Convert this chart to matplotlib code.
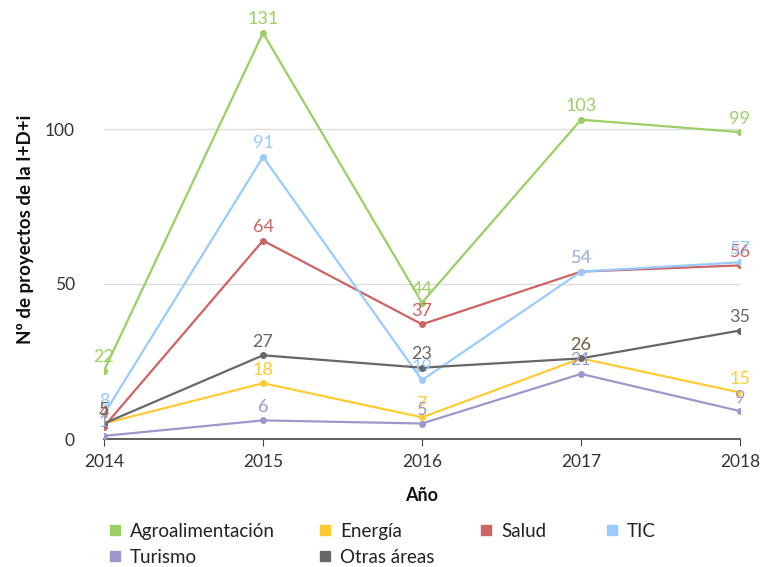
import matplotlib.pyplot as plt
from matplotlib.lines import Line2D

plt.rcParams['font.family'] = ['Lato', 'DejaVu Sans']

years = [2014, 2015, 2016, 2017, 2018]
agro = [22, 131, 44, 103, 99]
energia = [5, 18, 7, 26, 15]
salud = [4, 64, 37, 54, 56]
tic = [8, 91, 19, 54, 57]
turismo = [1, 6, 5, 21, 9]
otras = [5, 27, 23, 26, 35]

series = [
    ('Agroalimentación', agro, '#9bcf63'),
    ('Energía', energia, '#ffcb33'),
    ('Salud', salud, '#cc6464'),
    ('TIC', tic, '#99cbff'),
    ('Turismo', turismo, '#9d98cc'),
    ('Otras áreas', otras, '#676767'),
]

W, H = 761, 567
fig = plt.figure(figsize=(W / 100, H / 100), dpi=100)
ax = fig.add_axes([104 / W, 1 - 439 / H, 636 / W, 418.5 / H])

for name, vals, col in series:
    ax.plot(years, vals, color=col, lw=1.6, marker='o', ms=4, zorder=3)
    for x, v in zip(years, vals):
        ax.annotate(str(v), (x, v), xytext=(0, 4), textcoords='offset points',
                    ha='center', va='bottom', color=col, fontsize=13, zorder=4)

ax.set_xlim(2014, 2018)
ax.set_ylim(0, 135)
ax.set_yticks([0, 50, 100])
ax.set_xticks(years)
ax.grid(axis='y', color='#dddddd', lw=1)
ax.set_axisbelow(True)
for s in ['top', 'right', 'left']:
    ax.spines[s].set_visible(False)
ax.spines['bottom'].set_color('#444444')
ax.spines['bottom'].set_linewidth(1.2)
ax.tick_params(axis='y', length=0, pad=21, labelsize=12.5, labelcolor='#333333')
ax.tick_params(axis='x', length=5, color='#444444', pad=6, labelsize=12.5, labelcolor='#333333')
ax.set_xlabel('Año', fontsize=13, fontweight='bold', color='#111111', labelpad=12)
ax.set_ylabel('Nº de proyectos de la I+D+i', fontsize=13.5, fontweight='bold', color='#111111', labelpad=8)

# legend drawn by hand at fixed column/row positions (pixels)
legend_pos = {
    'Agroalimentación': (115, 530), 'Energía': (325, 530), 'Salud': (486, 530), 'TIC': (612, 530),
    'Turismo': (115, 556), 'Otras áreas': (325, 556),
}
for name, vals, col in series:
    px, py = legend_pos[name]
    fig.add_artist(Line2D([px / W], [1 - py / H], ls='', marker='s', ms=7.5, color=col,
                          transform=fig.transFigure))
    fig.text((px + 15) / W, 1 - py / H, name, ha='left', va='center_baseline',
             fontsize=13.5, color='#222222')

fig.savefig('out.png', dpi=100)
